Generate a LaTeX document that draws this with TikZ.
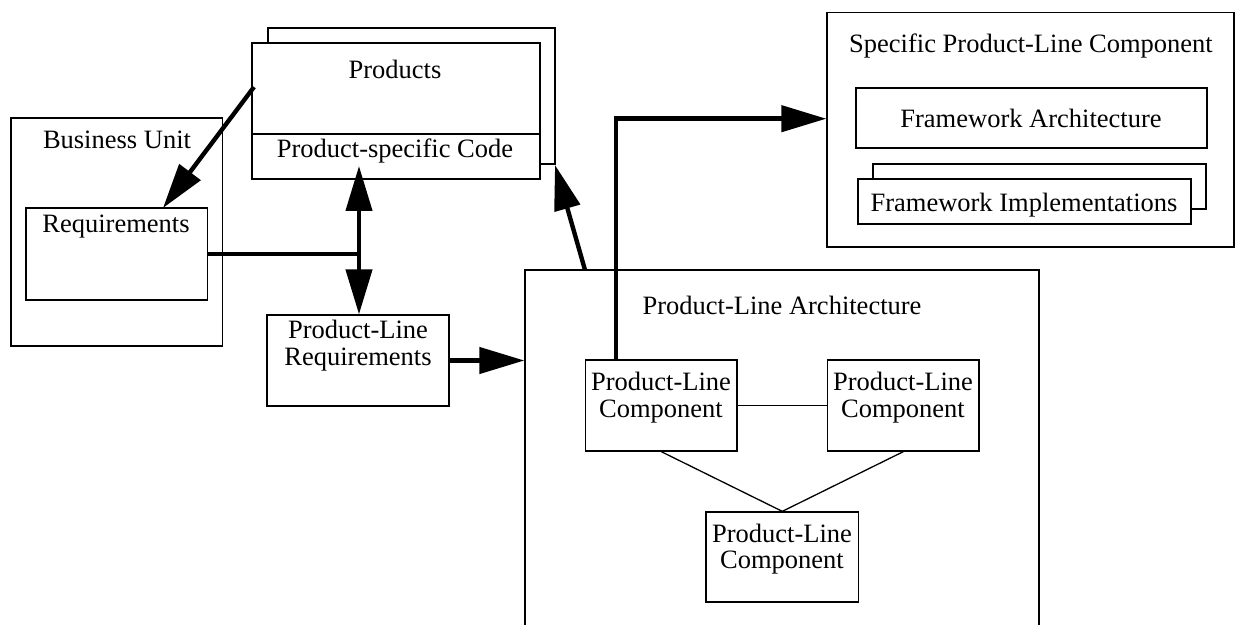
\documentclass[tikz,border=0pt]{standalone}
\usepackage{fontspec}
\setmainfont{Liberation Serif}
\usetikzlibrary{arrows.meta,fit,calc}
\begin{document}
\begin{tikzpicture}[x=0.5pt,y=-0.5pt,
  box/.style={draw,line width=0.65pt,inner sep=0pt},
  lbl/.style={inner sep=0pt,anchor=base,font=\fontsize{13.25}{13}\selectfont},
  thinline/.style={line width=0.65pt},
  fat/.style={line width=2.2pt},
  headtip/.style={-{Triangle[length=22.5pt,width=13pt]}},
  dbltip/.style={{Triangle[length=22.5pt,width=13pt]}-{Triangle[length=22.5pt,width=13pt]}}
]
\useasboundingbox (0,0) rectangle (1236,625);
\clip (0,0) rectangle (1236,625);
\fill[white] (0,0) rectangle (1236,625);

% boxes
\node[box,fit={(11,118) (222.7,346)}] (bu) {};
\node[box,fit={(26,208) (207.7,300)}] (req) {};
\draw[thinline] (540,164) -- (555,164) -- (555,28) -- (268,28) -- (268,43);
\node[box,fit={(252,43) (540,179)}] (prod) {};
\draw[thinline] (prod.west |- 0,134) -- (prod.east |- 0,134);
\node[box,fit={(267,315) (449,406)}] (plr) {};
\node[box,fit={(525,270) (1039,660)}] (pla) {};
\node[box,fit={(585.5,360) (737,451)}] (plc1) {};
\node[box,fit={(827.6,360) (979,451)}] (plc2) {};
\node[box,fit={(706,512) (858.6,602)}] (plc3) {};
\node[box,fit={(827,12.5) (1234,247)}] (spc) {};
\node[box,fit={(856,88) (1207,148)}] (fa) {};
\draw[thinline] (1191,209) -- (1206,209) -- (1206,164) -- (873,164) -- (873,179);
\node[box,fit={(858,179) (1191,224)}] (fi) {};

% texts
\node[lbl] (tbu) at (117,149) {Business Unit};
\node[lbl] (treq) at (116,233) {Requirements};
\node[lbl] (tprod) at (395,79) {Products};
\node[lbl] (tpsc) at (395,158) {Product-specific Code};
\node[lbl] (tplra) at (358,339) {Product-Line};
\node[lbl] (tplrb) at (358,365) {Requirements};
\node[lbl] (tpla) at (782,315) {Product-Line Architecture};
\node[lbl] (tc1a) at (661,391) {Product-Line};
\node[lbl] (tc1b) at (661,417) {Component};
\node[lbl] (tc2a) at (903,391) {Product-Line};
\node[lbl] (tc2b) at (903,417) {Component};
\node[lbl] (tc3a) at (782,542) {Product-Line};
\node[lbl] (tc3b) at (782,568) {Component};
\node[lbl] (tspc) at (1031,53) {Specific Product-Line Component};
\node[lbl] (tfa) at (1031,128) {Framework Architecture};
\node[lbl] (tfi) at (1024,212) {Framework Implementations};

% named free ends
\coordinate (prodout) at (254,87);
\coordinate (reqin) at (163,208);
\coordinate (junc) at (359,254);
\coordinate (pscin) at (359,166);
\coordinate (plain) at (585,270);
\coordinate (prodback) at (555,165);
\coordinate (c1out) at (616,360);
\coordinate (bend) at (616,118.7);

% thick connectors
\draw[fat,headtip] (prodout) -- (reqin);
\draw[fat] (req.east) -- (junc);
\draw[fat,dbltip] (pscin) -- (plr.north -| junc);
\draw[fat,headtip] (plr.east) -- (plr.east -| pla.west);
\draw[fat,headtip] (plain) -- (prodback);
\draw[fat,headtip] (c1out) -- (bend) -- (bend -| spc.west);

% thin connectors
\draw[thinline] (plc1.east) -- (plc2.west);
\draw[thinline] (plc1.south) -- (plc3.north);
\draw[thinline] (plc2.south) -- (plc3.north);
\end{tikzpicture}
\end{document}
